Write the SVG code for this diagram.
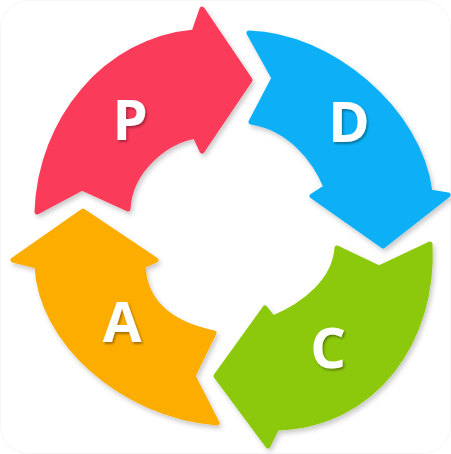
<svg xmlns="http://www.w3.org/2000/svg" width="451" height="454" viewBox="0 0 451 454">
  <defs>
    <filter id="shadow" x="-10%" y="-10%" width="130%" height="130%">
      <feDropShadow dx="2" dy="3" stdDeviation="2.5" flood-color="#000" flood-opacity="0.22"/>
    </filter>
    <filter id="tshadow" x="-20%" y="-20%" width="150%" height="150%">
      <feDropShadow dx="1.5" dy="2" stdDeviation="1" flood-color="#000" flood-opacity="0.35"/>
    </filter>
  </defs>
  <style>
    .arrow { stroke-width: 5; stroke-linejoin: round; filter: url(#shadow); }
    .red { fill: #fb3b5a; stroke: #fb3b5a; }
    .blue { fill: #0bb0f6; stroke: #0bb0f6; }
    .green { fill: #8cc90b; stroke: #8cc90b; }
    .orange { fill: #fdad00; stroke: #fdad00; }
    .label { font-family: "Open Sans", "Liberation Sans", sans-serif; font-weight: 700; font-size: 56px; fill: #ffffff; text-anchor: middle; filter: url(#tshadow); }
  </style>
  <rect x="0.5" y="0.5" width="450" height="453" rx="28" fill="#ffffff" stroke="#f6f6f6"/>
  <g id="plan">
    <path class="arrow red" d="M37,212 C40,120 105,40 194,32 L202,9 L250,80 L202,151 L195,136 C165,142 130,170 128,209 L82,188 Z"/>
    <text class="label" x="130" y="140">P</text>
  </g>
  <g id="do">
    <path class="arrow blue" d="M249,33 C330,35 420,110 430,192 L448,195 L383,246 L312,196 L326,187 C315,160 290,128 251,122 L274,78 Z"/>
    <text class="label" x="349" y="142">D</text>
  </g>
  <g id="check">
    <path class="arrow green" d="M430,244 C435,340 375,425 277,428 L268,446 L216,376 L265,308 L273,318 C305,305 335,280 337,248 L379,268 Z"/>
    <text class="label" x="328" y="368">C</text>
  </g>
  <g id="act">
    <path class="arrow orange" d="M83,211 L13,260 L37,266 C40,340 120,415 217,423 L193,376 L214,333 C175,325 145,305 143,266 L156,260 Z"/>
    <text class="label" x="122" y="342">A</text>
  </g>
</svg>
